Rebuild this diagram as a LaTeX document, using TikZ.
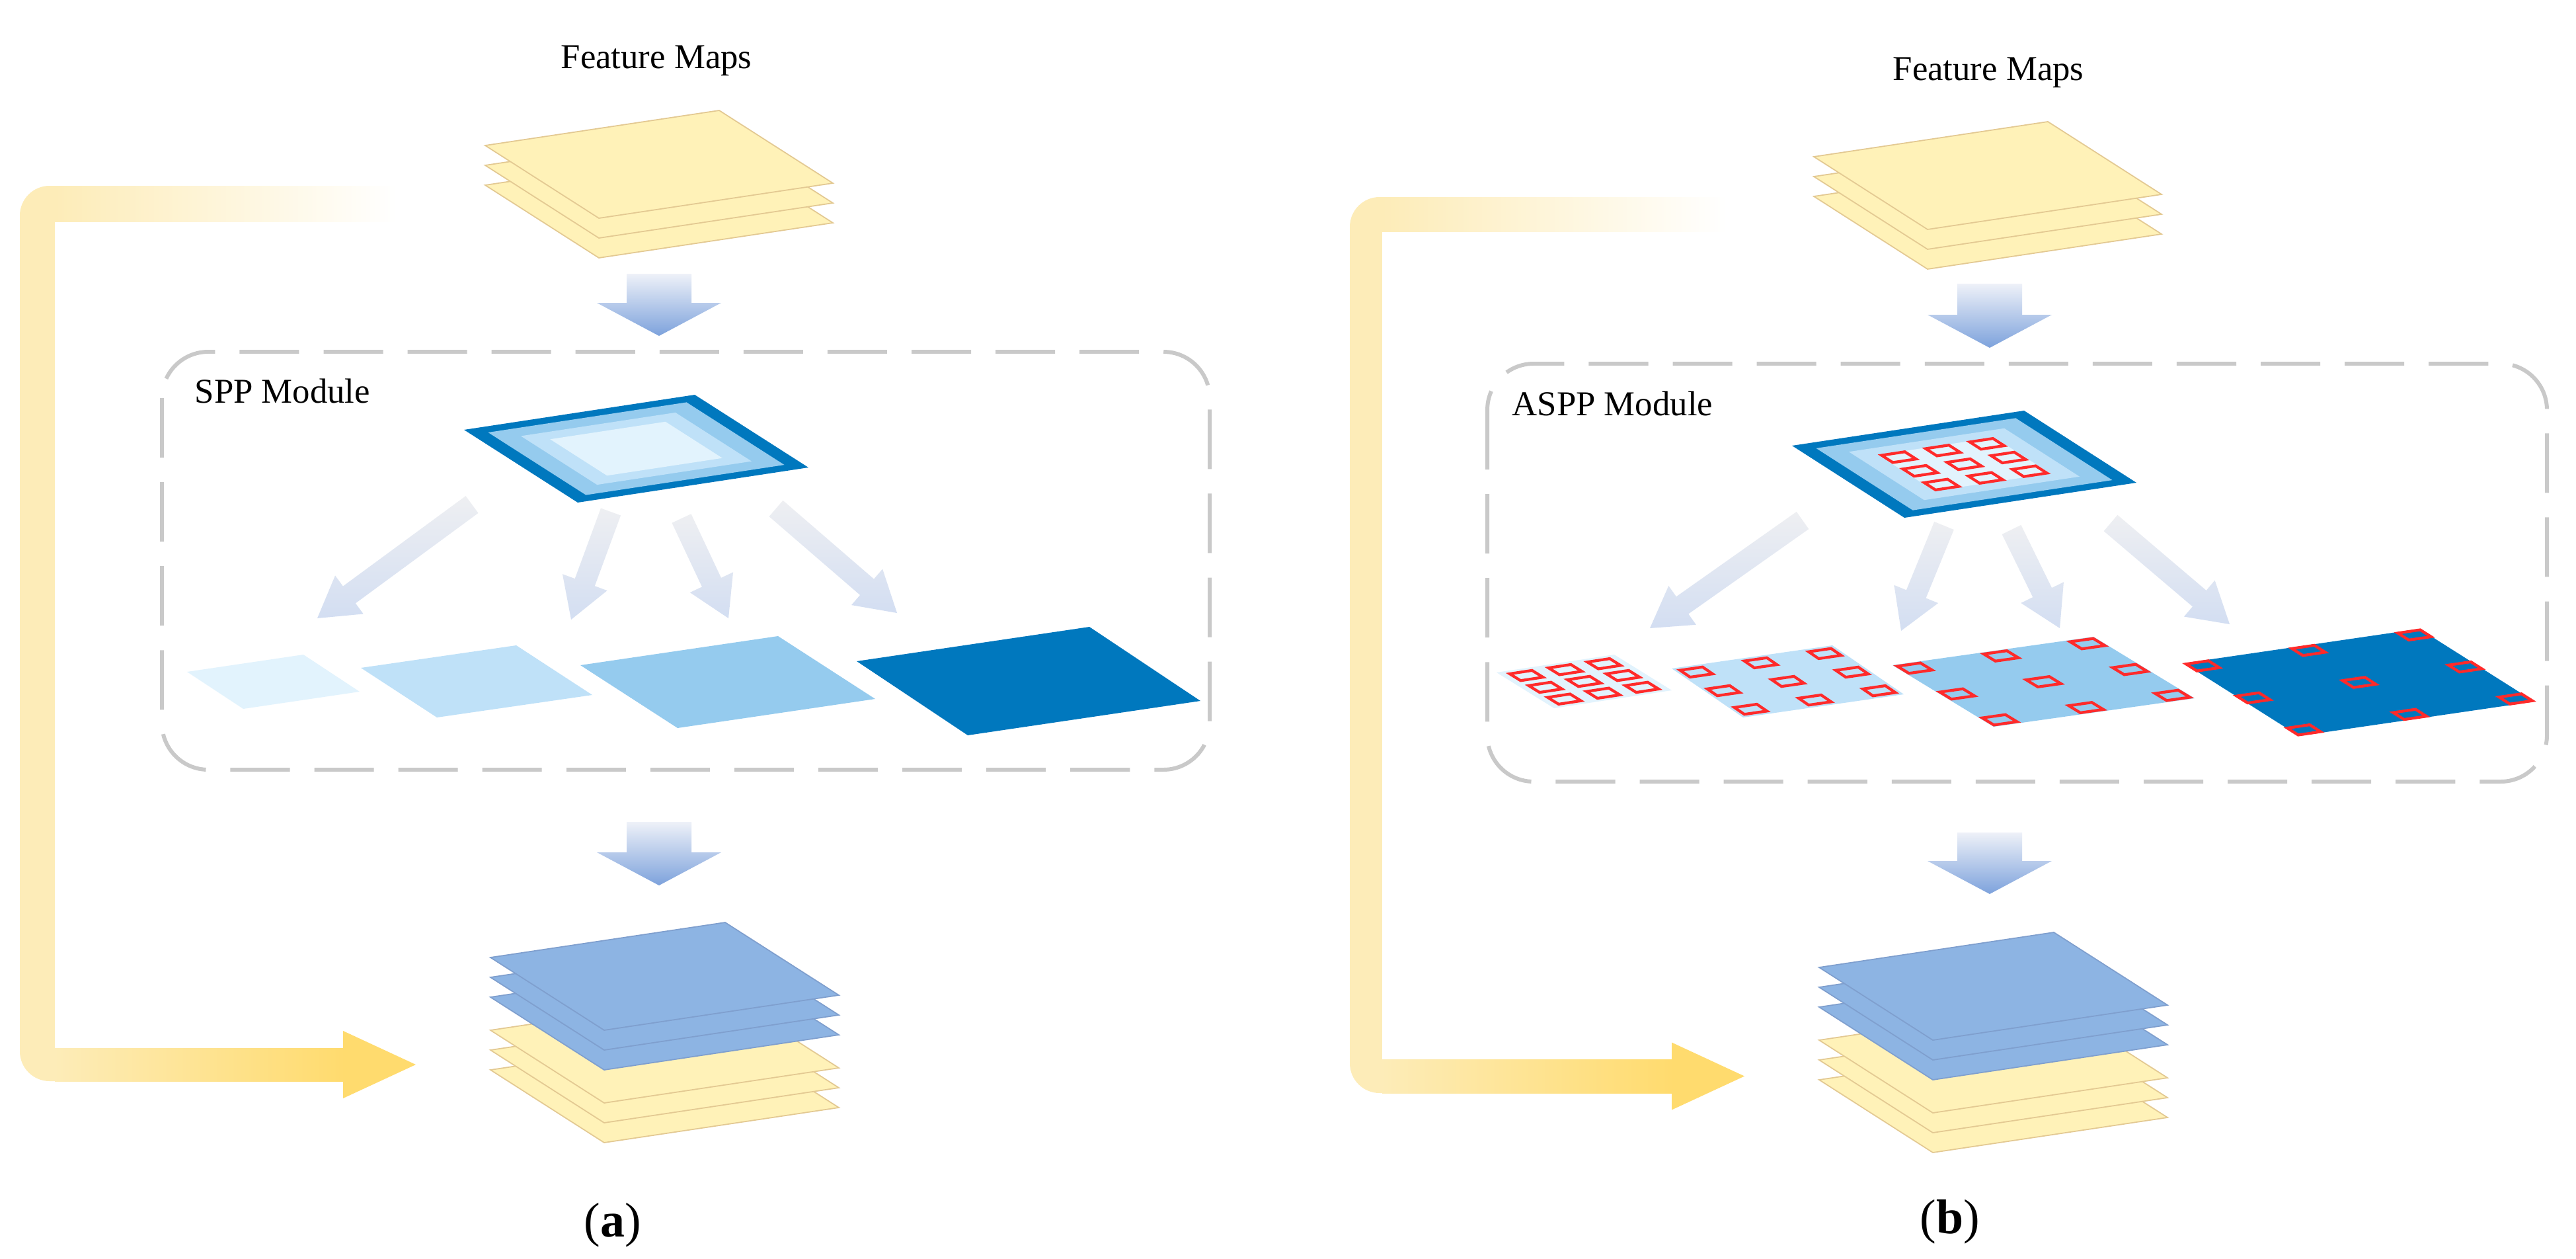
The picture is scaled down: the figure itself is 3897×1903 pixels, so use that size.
\documentclass[tikz,border=0pt]{standalone}
\usepackage{fontspec}
\setmainfont{Liberation Serif}
\usetikzlibrary{calc}
\definecolor{ysheet}{HTML}{FFF2B8}
\definecolor{yedge}{HTML}{E3C992}
\definecolor{bsheet}{HTML}{8DB4E3}
\definecolor{bedge}{HTML}{7F9FCE}
\definecolor{cdark}{HTML}{0078BE}
\definecolor{cmid}{HTML}{95CBEE}
\definecolor{clight}{HTML}{BFE1F8}
\definecolor{cpale}{HTML}{E2F3FD}
\definecolor{skipyel}{HTML}{FDECB8}
\definecolor{ygold}{HTML}{FFDB6E}
\definecolor{boxgray}{HTML}{C9C9C9}
\definecolor{arrtop}{HTML}{EEF1F8}
\definecolor{arrbot}{HTML}{7DA2DC}
\definecolor{fantop}{HTML}{EEEFF2}
\definecolor{fanbot}{HTML}{D3DEF2}
\definecolor{redsq}{HTML}{FF2A2A}
\tikzset{
  ysh/.style={fill=ysheet,draw=yedge,line width=0.5pt},
  bsh/.style={fill=bsheet,draw=bedge,line width=0.5pt},
  rsq/.style={draw=redsq,line width=1.2pt},
  modbox/.style={draw=boxgray,line width=1.7pt,rounded corners=0.7cm,dash pattern=on 0.9cm off 0.37cm},
  lbl/.style={font=\fontsize{15}{18}\selectfont,inner sep=0pt},
  sub/.style={font=\fontsize{21}{25}\selectfont,inner sep=0pt},
  fan/.style={top color=fantop,bottom color=fanbot,draw=none},
  bigarr/.style={top color=arrtop,bottom color=arrbot,draw=none}
}
\newcommand{\onsheet}[7]{\begin{scope}[shift={(#1,#2)},x={({(#3)*0.01cm},{-(#4)*0.01cm})},y={({(#5)*0.01cm},{-(#6)*0.01cm})}]#7\end{scope}}
\newcommand{\rs}[3]{\draw[rsq] ({#1-#3/2},{#2-#3/2}) -- ++(#3,0) -- ++(0,#3) -- ++(-#3,0) -- cycle;}
\newcommand{\fatarrow}[2]{%
  \coordinate (fa-t) at #1; \coordinate (fa-h) at #2;
  \coordinate (fa-b) at ($(fa-h)!0.6cm!(fa-t)$);
  \shade[fan] ($(fa-t)!0.16cm!90:(fa-h)$) -- ($(fa-b)!0.16cm!-90:(fa-t)$) -- ($(fa-b)!0.36cm!-90:(fa-t)$) -- (fa-h) -- ($(fa-b)!0.36cm!90:(fa-t)$) -- ($(fa-b)!0.16cm!90:(fa-t)$) -- ($(fa-t)!0.16cm!-90:(fa-h)$) -- cycle;}
\newcommand{\bigdown}[3]{% x center, top y, tip y
  \shade[bigarr] ({#1-49},#2) -- ({#1+49},#2) -- ({#1+49},{#3-50}) -- ({#1+94},{#3-50}) -- (#1,#3) -- ({#1-94},{#3-50}) -- ({#1-49},{#3-50}) -- cycle;}
\newcommand{\cblock}[6]{\onsheet{#1}{#2}{#3}{#4}{#5}{#6}{%
  \fill[cdark] (0,0)--(1,0)--(1,1)--(0,1)--cycle;
  \fill[cmid] (0.07,0.07)--(0.93,0.07)--(0.93,0.93)--(0.07,0.93)--cycle;
  \fill[clight] (0.165,0.165)--(0.835,0.165)--(0.835,0.835)--(0.165,0.835)--cycle;
  \fill[cpale] (0.25,0.25)--(0.75,0.25)--(0.75,0.75)--(0.25,0.75)--cycle;}}
\newcommand{\stackbot}[2]{%
  \foreach \o in {170,140,110}{\onsheet{#1}{#2+\o}{355}{-53}{172}{110}{\draw[ysh] (0,0)--(1,0)--(1,1)--(0,1)--cycle;}}
  \foreach \o in {60,30,0}{\onsheet{#1}{#2+\o}{355}{-53}{172}{110}{\draw[bsh] (0,0)--(1,0)--(1,1)--(0,1)--cycle;}}}
\newcommand{\stacktop}[2]{%
  \foreach \o in {60,30,0}{\onsheet{#1}{#2+\o}{354}{-53}{172}{110}{\draw[ysh] (0,0)--(1,0)--(1,1)--(0,1)--cycle;}}}
\newcommand{\skipconn}[9]{%
  \fill[fill=skipyel,rounded corners=0.45cm] (#1,#3) rectangle (#2+70,#3+130);
  \fill[fill=skipyel,rounded corners=0.45cm] (#1,#6-130) rectangle (#2+70,#6);
  \fill[fill=skipyel] (#1,#3+60) rectangle (#2,#6-60);
  \fill[white] (#2,#4) rectangle (#2+75,#5);
  \shade[left color=skipyel,right color=white] (#2,#3) rectangle (#7,#4);
  \shade[left color=skipyel,right color=ygold] (#2,#5) rectangle (#8+2,#6);
  \fill[ygold] (#8,{(#5+#6)/2-#9}) -- (#8+110,{(#5+#6)/2}) -- (#8,{(#5+#6)/2+#9}) -- cycle;}
\begin{document}
\begin{tikzpicture}[x={(0.01cm,0)},y={(0,-0.01cm)}]
\useasboundingbox (0,0) rectangle (3897,1903);
\fill[white] (0,0) rectangle (3897,1903);
% ---------- (a) ----------
\skipconn{30}{83}{281}{335}{1585}{1635}{600}{519}{51}
\node[lbl] (fmA) at (993,92) {Feature Maps};
\stacktop{734}{220}
\bigdown{997}{414}{508}
\draw[modbox] (245,532) rectangle (1830,1164);
\node[lbl,anchor=base west] (sppA) at (294,609) {SPP Module};
\cblock{702}{650}{349}{-53}{172}{110}
\fatarrow{(714,763)}{(480,935)}
\fatarrow{(924,774)}{(864,937)}
\fatarrow{(1031,784)}{(1102,935)}
\fatarrow{(1174,769)}{(1357,927)}
\onsheet{283}{1016}{176}{-26}{85}{56}{\fill[cpale] (0,0)--(1,0)--(1,1)--(0,1)--cycle;}
\onsheet{546}{1010}{235}{-34}{115}{75}{\fill[clight] (0,0)--(1,0)--(1,1)--(0,1)--cycle;}
\onsheet{878}{1006}{299}{-44}{147}{95}{\fill[cmid] (0,0)--(1,0)--(1,1)--(0,1)--cycle;}
\onsheet{1296}{1000}{352}{-52}{168}{112}{\fill[cdark] (0,0)--(1,0)--(1,1)--(0,1)--cycle;}
\bigdown{997}{1243}{1339}
\stackbot{742}{1448}
\node[sub] (capA) at (927,1853) {(\textbf{a})};
% ---------- (b) ----------
\skipconn{2042}{2091}{298}{350}{1602}{1653}{2612}{2529}{51}
\node[lbl] (fmB) at (3008,110) {Feature Maps};
\stacktop{2744}{237}
\bigdown{3010}{429}{526}
\draw[modbox] (2250,550) rectangle (3853,1182);
\node[lbl,anchor=base west] (asppB) at (2287,628) {ASPP Module};
\cblock{2711}{674}{351}{-53}{170}{109}
\onsheet{2711}{674}{351}{-53}{170}{109}{\foreach \u in {0.31,0.5,0.69}{\foreach \v in {0.31,0.5,0.69}{\rs{\u}{\v}{0.1}}}}
\fatarrow{(2727,787)}{(2496,950)}
\fatarrow{(2941,795)}{(2876,954)}
\fatarrow{(3043,801)}{(3116,950)}
\fatarrow{(3193,791)}{(3373,944)}
\onsheet{2264}{1017}{178}{-27}{87}{54}{\fill[cpale] (0,0)--(1,0)--(1,1)--(0,1)--cycle;
  \foreach \u in {0.17,0.5,0.83}{\foreach \v in {0.17,0.5,0.83}{\rs{\u}{\v}{0.19}}}}
\onsheet{2529}{1011}{243}{-35}{108}{74}{\fill[clight] (0,0)--(1,0)--(1,1)--(0,1)--cycle;
  \foreach \u in {0.1,0.5,0.9}{\foreach \v in {0.12,0.5,0.88}{\rs{\u}{\v}{0.14}}}}
\onsheet{2863}{1006}{304}{-43}{153}{93}{\fill[cmid] (0,0)--(1,0)--(1,1)--(0,1)--cycle;
  \foreach \u in {0.07,0.5,0.93}{\foreach \v in {0.08,0.5,0.92}{\rs{\u}{\v}{0.115}}}}
\onsheet{3304}{1003}{356}{-52}{174}{110}{\fill[cdark] (0,0)--(1,0)--(1,1)--(0,1)--cycle;
  \foreach \u in {0.05,0.5,0.95}{\foreach \v in {0.06,0.5,0.94}{\rs{\u}{\v}{0.095}}}}
\bigdown{3010}{1259}{1352}
\stackbot{2752}{1463}
\node[sub] (capB) at (2950,1848) {(\textbf{b})};
\end{tikzpicture}
\end{document}
